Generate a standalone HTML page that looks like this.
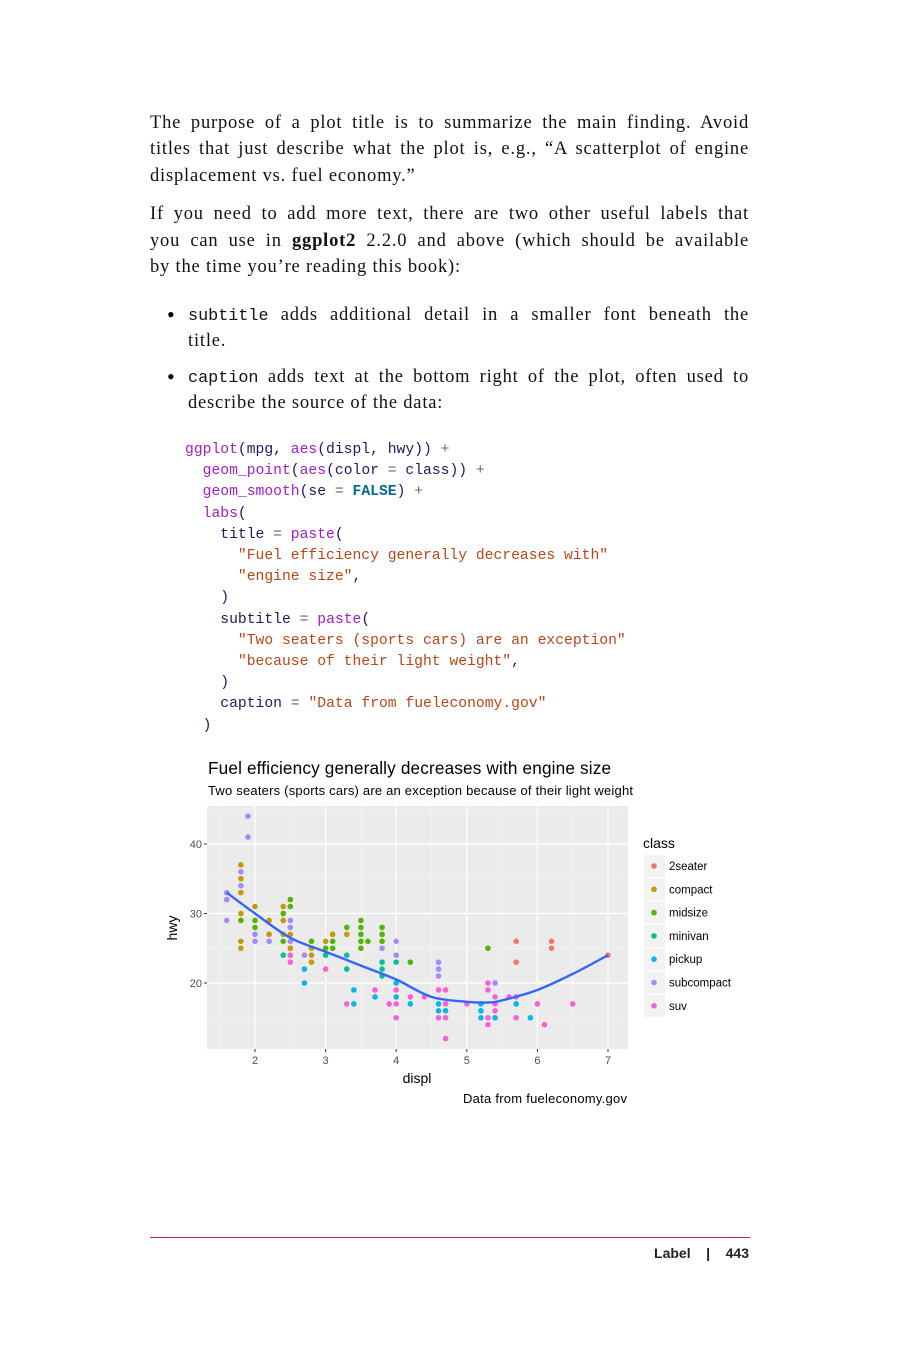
<!DOCTYPE html>
<html><head><meta charset="utf-8"><style>
body{margin:0;background:#fff;width:900px;height:1350px;position:relative;overflow:hidden}
.l{position:absolute;left:150px;width:599px;font-family:"Liberation Serif",serif;font-size:18.5px;line-height:26.5px;color:#111;margin:0;white-space:nowrap;text-align:justify;text-align-last:justify;letter-spacing:0.8px}
.l.last{text-align-last:left}
.l.i{left:188px;width:561px}
.l code{font-family:"Liberation Mono",monospace;font-size:16.8px;letter-spacing:0}
.dot{position:absolute;left:167px;font-size:22px;line-height:26.5px;font-family:"Liberation Serif",serif}
pre{position:absolute;left:185px;top:440px;margin:0;font-family:"Liberation Mono",monospace;font-size:14.7px;line-height:21.2px;color:#1c1c5c}
.f{color:#a020c0}.s{color:#b5471c}.k{color:#006a8a;font-weight:bold}.o{color:#666}
</style></head><body>
<div>
<p class="l" style="top:110px">The purpose of a plot title is to summarize the main finding. Avoid</p>
<p class="l" style="top:136px">titles that just describe what the plot is, e.g., “A scatterplot of engine</p>
<p class="l last" style="top:163px">displacement vs. fuel economy.”</p>
</div>
<div>
<p class="l" style="top:201px">If you need to add more text, there are two other useful labels that</p>
<p class="l" style="top:228px">you can use in <b>ggplot2</b> 2.2.0 and above (which should be available</p>
<p class="l last" style="top:254px">by the time you’re reading this book):</p>
</div>
<span class="dot" style="top:302px">•</span>
<div>
<p class="l i" style="top:302px"><code>subtitle</code> adds additional detail in a smaller font beneath the</p>
<p class="l i last" style="top:328px">title.</p>
</div>
<span class="dot" style="top:364px">•</span>
<div>
<p class="l i" style="top:364px"><code>caption</code> adds text at the bottom right of the plot, often used to</p>
<p class="l i last" style="top:390px">describe the source of the data:</p>
</div>
<pre><span class="f">ggplot</span>(mpg, <span class="f">aes</span>(displ, hwy)) <span class="o">+</span>
  <span class="f">geom_point</span>(<span class="f">aes</span>(color <span class="o">=</span> class)) <span class="o">+</span>
  <span class="f">geom_smooth</span>(se <span class="o">=</span> <span class="k">FALSE</span>) <span class="o">+</span>
  <span class="f">labs</span>(
    title <span class="o">=</span> <span class="f">paste</span>(
      <span class="s">"Fuel efficiency generally decreases with"</span>
      <span class="s">"engine size"</span>,
    )
    subtitle <span class="o">=</span> <span class="f">paste</span>(
      <span class="s">"Two seaters (sports cars) are an exception"</span>
      <span class="s">"because of their light weight"</span>,
    )
    caption <span class="o">=</span> <span class="s">"Data from fueleconomy.gov"</span>
  )</pre>
<svg id="chart" width="900" height="1350" style="position:absolute;left:0;top:0" font-family="Liberation Sans, sans-serif"></svg>
<div style="position:absolute;left:150px;top:1237px;width:600px;height:1px;background:#b03040"></div>
<div style="position:absolute;right:151px;top:1245px;font-family:'Liberation Sans',sans-serif;font-weight:bold;font-size:14px;color:#222">Label &nbsp;&nbsp; | &nbsp;&nbsp; 443</div>
<script>
const classes=["2seater","compact","midsize","minivan","pickup","subcompact","suv"];
const colors=["#F8766D","#C49A00","#53B400","#00C094","#00B6EB","#A58AFF","#FB61D7"];
const pts2seater=[[5.7,26],[5.7,23],[6.2,26],[6.2,25],[7,24]];
const ptsCompact=[[1.8,37],[1.8,35],[1.8,33],[1.8,30],[1.8,26],[1.8,25],[2.0,31],[2.2,29],[2.2,27],[2.4,31],[2.4,29],[2.4,27],[2.5,27],[2.5,25],[2.5,24],[2.8,25],[2.8,24],[2.8,23],[3.0,26],[3.1,27],[3.3,27]];
const ptsMidsize=[[1.8,29],[2.0,29],[2.0,28],[2.4,30],[2.4,26],[2.5,32],[2.5,31],[2.8,26],[3.0,25],[3.1,26],[3.1,25],[3.3,28],[3.5,29],[3.5,28],[3.5,27],[3.5,26],[3.5,25],[3.6,26],[3.8,28],[3.8,27],[3.8,26],[4.2,23],[5.3,25]];
const ptsMinivan=[[2.4,24],[3.0,24],[3.3,24],[3.3,22],[3.8,23],[3.8,22],[3.8,21],[4.0,23]];
const ptsPickup=[[2.7,22],[2.7,20],[3.4,19],[3.4,17],[3.7,18],[4.0,20],[4.0,18],[4.2,17],[4.6,17],[4.6,16],[4.7,16],[5.2,17],[5.2,16],[5.2,15],[5.4,15],[5.7,17],[5.9,15]];
const ptsSubcompact=[[1.6,33],[1.6,32],[1.6,29],[1.8,36],[1.8,34],[1.9,44],[1.9,41],[2.0,27],[2.0,26],[2.2,26],[2.5,29],[2.5,28],[2.5,26],[2.7,24],[3.8,25],[4.0,26],[4.0,24],[4.6,23],[4.6,22],[4.6,21],[5.4,20]];
const ptsSuv=[[2.5,24],[2.5,23],[3.0,22],[3.3,17],[3.7,19],[3.9,17],[4.0,19],[4.0,17],[4.0,15],[4.2,18],[4.4,18],[4.6,19],[4.6,15],[4.7,19],[4.7,17],[4.7,15],[4.7,12],[5.0,17],[5.3,20],[5.3,19],[5.3,15],[5.3,14],[5.4,18],[5.4,17],[5.4,16],[5.6,18],[5.7,18],[5.7,15],[6.0,17],[6.1,14],[6.5,17]];
const smoothX=[1.6,2,2.5,3,3.5,4,4.5,5,5.3,5.5,6,6.5,7];
const smoothY=[33,30,26.5,24.5,22.5,20.5,18,17.3,17.2,17.5,19,21.3,24];
const xTicks=[2,3,4,5,6,7];
const yTicks=[20,30,40];
const series=[pts2seater,ptsCompact,ptsMidsize,ptsMinivan,ptsPickup,ptsSubcompact,ptsSuv];
const L=207,R=628,T=806,B=1049;
const X=v=>255+(v-2)*70.6;
const Y=v=>844+(40-v)*6.95;
const svg=document.getElementById('chart');
const NS='http://www.w3.org/2000/svg';
function mk(tag,at,txt){const e=document.createElementNS(NS,tag);for(const k in at)e.setAttribute(k,at[k]);if(txt!==undefined)e.textContent=txt;svg.appendChild(e);return e;}
let e=mk('rect',{x:L,y:T,width:R-L,height:B-T,fill:'#ebebeb'});

for(let v=1.5;v<=7.5;v+=1){if(X(v)>L&&X(v)<R){e=mk('line',{x1:X(v),x2:X(v),y1:T,y2:B,stroke:'#f5f5f5','stroke-width':0.6});}}
for(let v=15;v<=45;v+=10){e=mk('line',{x1:L,x2:R,y1:Y(v),y2:Y(v),stroke:'#f5f5f5','stroke-width':0.6});}
xTicks.forEach(v=>{e=mk('line',{x1:X(v),x2:X(v),y1:T,y2:B,stroke:'#fff','stroke-width':1.2});
e=mk('line',{x1:X(v),x2:X(v),y1:B,y2:B+3,stroke:'#333'});
e=mk('text',{x:X(v),y:B+15,'font-size':11,fill:'#4d4d4d','text-anchor':'middle'},v);});
yTicks.forEach(v=>{e=mk('line',{x1:L,x2:R,y1:Y(v),y2:Y(v),stroke:'#fff','stroke-width':1.2});
e=mk('line',{x1:L-3,x2:L,y1:Y(v),y2:Y(v),stroke:'#333'});
e=mk('text',{x:L-5,y:Y(v)+4,'font-size':11,fill:'#4d4d4d','text-anchor':'end'},v);});
series.forEach((s,i)=>s.forEach(p=>{e=mk('circle',{cx:X(p[0]),cy:Y(p[1]),r:2.8,fill:colors[i]});}));
const P=smoothX.map((x,i)=>[X(x),Y(smoothY[i])]);
let d='M'+P[0][0]+','+P[0][1];
for(let i=0;i<P.length-1;i++){const p0=P[Math.max(i-1,0)],p1=P[i],p2=P[i+1],p3=P[Math.min(i+2,P.length-1)];
d+=' C'+(p1[0]+(p2[0]-p0[0])/6)+','+(p1[1]+(p2[1]-p0[1])/6)+' '+(p2[0]-(p3[0]-p1[0])/6)+','+(p2[1]-(p3[1]-p1[1])/6)+' '+p2[0]+','+p2[1];}
e=mk('path',{d:d,fill:'none',stroke:'#3366FF','stroke-width':2.4,'stroke-linejoin':'round'});

e=mk('text',{x:208,y:774,'font-size':17.2,fill:'#000',textLength:403},'Fuel efficiency generally decreases with engine size');
e=mk('text',{x:208,y:795,'font-size':13,fill:'#000',textLength:425},'Two seaters (sports cars) are an exception because of their light weight');
e=mk('text',{x:417,y:1083,'font-size':14,fill:'#000','text-anchor':'middle'},'displ');
e=mk('text',{x:0,y:0,'font-size':14,fill:'#000','text-anchor':'middle',transform:'translate(177,928) rotate(-90)'},'hwy');
e=mk('text',{x:627,y:1103,'font-size':13,fill:'#000','text-anchor':'end',textLength:164},'Data from fueleconomy.gov');
e=mk('text',{x:643,y:848,'font-size':14,fill:'#000'},'class');
classes.forEach((c,i)=>{const cy=866+i*23.3;
e=mk('rect',{x:644,y:cy-11,width:21,height:22,fill:'#f2f2f2'});
e=mk('circle',{cx:654,cy:cy,r:2.8,fill:colors[i]});
e=mk('text',{x:669,y:cy+4,'font-size':11.5,fill:'#000'},c);});
</script>
</body></html>
